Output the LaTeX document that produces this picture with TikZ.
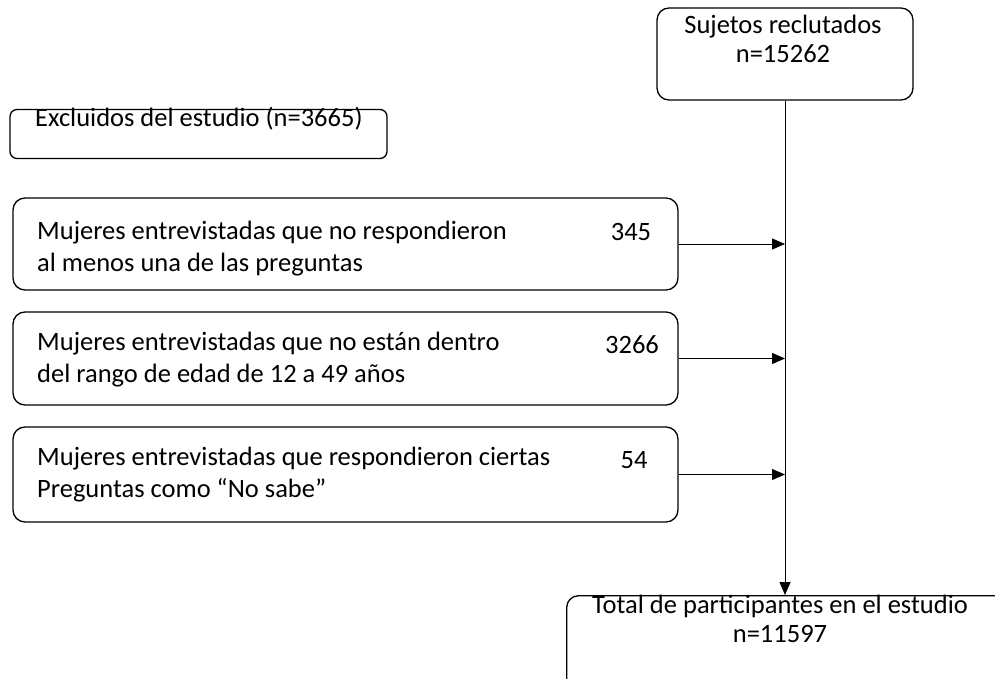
\documentclass[tikz,border=0pt]{standalone}
\usepackage{fontspec}
\setmainfont{Carlito}
\usetikzlibrary{arrows.meta}
\begin{document}
\begin{tikzpicture}[x=1pt,y=-1pt,
  box/.style={draw,line width=1.3pt,rounded corners=12pt,inner sep=0pt},
  txt/.style={font=\fontsize{26.5}{32}\selectfont,inner sep=0pt,align=left},
  ctxt/.style={font=\fontsize{26.5}{29}\selectfont,inner sep=0pt,align=center},
  arr/.style={line width=0.9pt,-{Triangle[length=13pt,width=11pt]}}]
\useasboundingbox (0,0) rectangle (995,679);
\clip (0,0) rectangle (995,679);
% boxes
\node[box,minimum width=256pt,minimum height=92pt] (top) at (785,54) {};
\node[box,rounded corners=7pt,minimum width=377pt,minimum height=49pt] (excl) at (198.5,134) {};
\node[box,minimum width=665pt,minimum height=92pt] (b1) at (345.5,244) {};
\node[box,minimum width=665pt,minimum height=93pt] (b2) at (345.5,358.5) {};
\node[box,minimum width=665pt,minimum height=95pt] (b3) at (345.5,474.5) {};
\node[box,minimum width=450pt,minimum height=130pt,anchor=north west] (bot) at (566,595) {};
% texts
\node[ctxt] (ttop) at (783,39) {Sujetos reclutados\\n=15262};
\node[txt,anchor=west] (texcl) at (35,119) {Excluidos del estudio (n=3665)};
\node[txt,anchor=west] (t1) at (37,249) {Mujeres entrevistadas que no respondieron\\al menos una de las preguntas};
\node[txt,anchor=center] (n1) at (631,232) {345};
\node[txt,anchor=west] (t2) at (37,360) {Mujeres entrevistadas que no están dentro\\del rango de edad de 12 a 49 años};
\node[txt,anchor=center] (n2) at (632,345) {3266};
\node[txt,anchor=west] (t3) at (37,475) {Mujeres entrevistadas que respondieron ciertas\\Preguntas como “No sabe”};
\node[txt,anchor=center] (n3) at (634,460) {54};
\node[ctxt] (tbot) at (780,619) {Total de participantes en el estudio\\n=11597};
% connectors
\draw[arr] (top.south) -- (top.south |- bot.north);
\draw[arr] (b1.east) -- (b1.east -| top.south);
\draw[arr] (b2.east) -- (b2.east -| top.south);
\draw[arr] (b3.east) -- (b3.east -| top.south);
\end{tikzpicture}
\end{document}
